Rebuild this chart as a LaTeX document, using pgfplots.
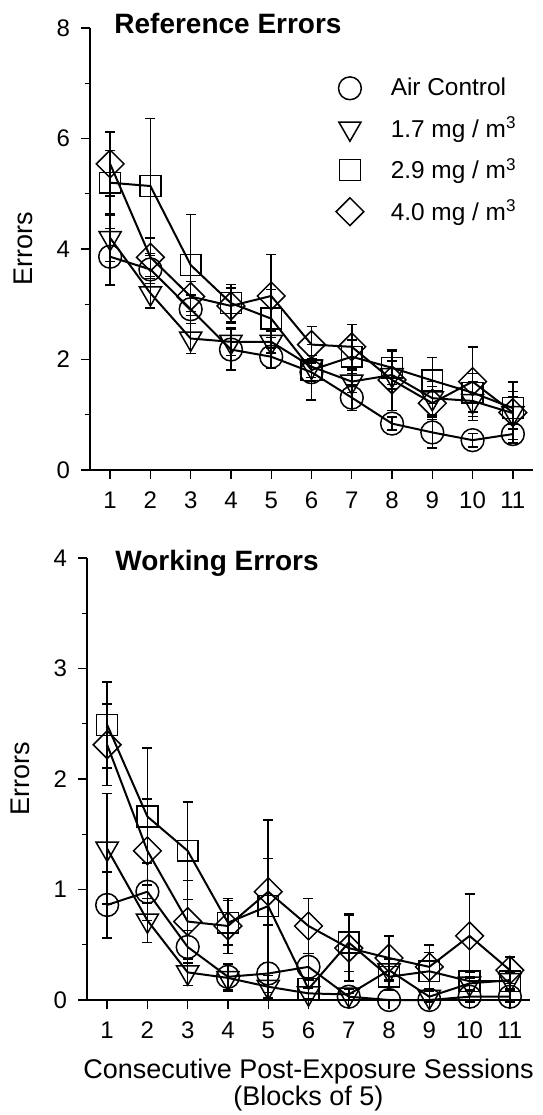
\documentclass[border=0pt]{standalone}
\usepackage{fontspec}
\setmainfont{Liberation Sans}
\usepackage{pgfplots}
\usepackage{pgfplotstable}
\pgfplotsset{compat=1.18}

% Reference errors: session, mean, error
\pgfplotstableread{
s y e
1 3.86 0.51
2 3.63 0.25
3 2.91 0.26
4 2.18 0.37
5 2.05 0.20
6 1.77 0.50
7 1.31 0.23
8 0.84 0.12
9 0.68 0.28
10 0.54 0.12
11 0.65 0.10
}\refair
\pgfplotstableread{
s y e
1 4.20 0.43
2 3.20 0.27
3 2.38 0.27
4 2.32 0.25
5 2.32 0.20
6 1.87 0.20
7 1.60 0.20
8 1.72 0.25
9 1.30 0.30
10 1.25 0.35
11 1.03 0.30
}\reflow
\pgfplotstableread{
s y e
1 5.20 0.58
2 5.14 1.22
3 3.71 0.91
4 3.02 0.34
5 2.74 0.53
6 1.81 0.20
7 2.05 0.30
8 1.85 0.30
9 1.62 0.42
10 1.40 0.35
11 1.12 0.30
}\refmid
\pgfplotstableread{
s y e
1 5.54 0.58
2 3.85 0.35
3 3.14 0.27
4 2.97 0.32
5 3.15 0.75
6 2.27 0.33
7 2.23 0.40
8 1.63 0.55
9 1.21 0.30
10 1.60 0.63
11 1.04 0.55
}\refhigh

% Working errors: session, mean, error
\pgfplotstableread{
s y e
1 0.86 0.30
2 0.98 0.26
3 0.48 0.15
4 0.21 0.12
5 0.24 0.10
6 0.30 0.12
7 0.03 0.03
8 0.00 0.00
9 0.00 0.00
10 0.03 0.05
11 0.03 0.05
}\wrkair
\pgfplotstableread{
s y e
1 1.37 0.50
2 0.72 0.20
3 0.25 0.12
4 0.20 0.12
5 0.12 0.10
6 0.06 0.05
7 0.05 0.05
8 0.27 0.10
9 0.03 0.05
10 0.15 0.06
11 0.18 0.08
}\wrklow
\pgfplotstableread{
s y e
1 2.49 0.39
2 1.66 0.62
3 1.35 0.44
4 0.70 0.20
5 0.85 0.78
6 0.10 0.10
7 0.52 0.26
8 0.21 0.12
9 0.26 0.17
10 0.17 0.08
11 0.17 0.08
}\wrkmid
\pgfplotstableread{
s y e
1 2.31 0.37
2 1.35 0.47
3 0.71 0.37
4 0.67 0.25
5 0.98 0.30
6 0.67 0.25
7 0.47 0.30
8 0.38 0.20
9 0.30 0.20
10 0.58 0.38
11 0.27 0.12
}\wrkhigh

\pgfplotsset{
  errpanel/.style={
    scale only axis, width=221.5pt, height=221pt,
    xmin=0.5, xmax=11.5, xtick={1,...,11},
    axis x line*=bottom, axis y line*=left,
    axis line style={line width=0.75pt, black},
    tick align=outside,
    major tick length=4.5pt, minor tick length=2.5pt,
    every tick/.style={line width=0.65pt, black},
    minor y tick num=1,
    ticklabel style={font=\fontsize{12}{14}\selectfont},
    xticklabel style={yshift=-3pt},
    yticklabel style={xshift=-2pt},
    /pgf/number format/assume math mode=true,
    ylabel={Errors},
    every axis y label/.style={at={(axis description cs:0,0.5)}, rotate=90,
      anchor=center, yshift=33.5pt, font=\fontsize{13.5}{15}\selectfont},
    clip=false,
  },
  grp/.style={black, line width=1pt,
    error bars/.cd, y dir=both, y explicit,
    error bar style={line width=0.75pt},
    error mark options={rotate=90, mark size=2.5pt, line width=0.75pt}},
  mk-air/.style={mark=o, mark size=5.7pt, mark options={solid, line width=0.75pt, fill=none}},
  mk-low/.style={mark=triangle, mark size=6.4pt, mark options={solid, rotate=180, line width=0.75pt, fill=none}},
  mk-mid/.style={mark=square, mark size=5.2pt, mark options={solid, line width=0.75pt, fill=none}},
  mk-high/.style={mark=square, mark size=4.9pt, mark options={solid, rotate=45, line width=0.75pt, fill=none}},
}

\begin{document}
\begin{tikzpicture}
\useasboundingbox (0,0) rectangle (271pt,-557.5pt);

\begin{axis}[errpanel, at={(45pt,-14pt)}, anchor=north west,
  ymin=0, ymax=8, ytick={0,2,...,8},
  legend style={draw=none, fill=none, at={(rel axis cs:0.541,0.906)}, anchor=north west,
    font=\fontsize{12.2}{14}\selectfont, row sep=5pt, cells={anchor=west},
    /tikz/every odd column/.append style={column sep=11.5pt}}]
  \addlegendimage{only marks, mk-air}
  \addlegendentry{Air Control}
  \addlegendimage{only marks, mk-low}
  \addlegendentry{1.7 mg / m\textsuperscript{3}}
  \addlegendimage{only marks, mk-mid}
  \addlegendentry{2.9 mg / m\textsuperscript{3}}
  \addlegendimage{only marks, mk-high}
  \addlegendentry{4.0 mg / m\textsuperscript{3}}

  \addplot+[forget plot, mk-air, grp] table[x=s, y=y, y error=e] {\refair};
  \addplot+[forget plot, mk-low, grp] table[x=s, y=y, y error=e] {\reflow};
  \addplot+[forget plot, mk-mid, grp] table[x=s, y=y, y error=e] {\refmid};
  \addplot+[forget plot, mk-high, grp] table[x=s, y=y, y error=e] {\refhigh};

  \node[anchor=base west, inner sep=0pt, font=\bfseries\fontsize{14}{16}\selectfont, xshift=12pt, yshift=-2.5pt]
    at (rel axis cs:0,1) {Reference Errors};
\end{axis}

\begin{axis}[errpanel, at={(43.5pt,-279pt)}, anchor=north west,
  ymin=0, ymax=4, ytick={0,...,4},
  xlabel={Consecutive Post-Exposure Sessions\\(Blocks of 5)},
  every axis x label/.style={at={(axis description cs:0.5,0)}, anchor=north,
    yshift=-29.5pt, inner sep=0pt, align=center, font=\fontsize{13.5}{13.5}\selectfont}]
  \addplot+[mk-air, grp] table[x=s, y=y, y error=e] {\wrkair};
  \addplot+[mk-low, grp] table[x=s, y=y, y error=e] {\wrklow};
  \addplot+[mk-mid, grp] table[x=s, y=y, y error=e] {\wrkmid};
  \addplot+[mk-high, grp] table[x=s, y=y, y error=e] {\wrkhigh};

  \node[anchor=base west, inner sep=0pt, font=\bfseries\fontsize{14}{16}\selectfont, xshift=14pt, yshift=-6pt]
    at (rel axis cs:0,1) {Working Errors};
\end{axis}
\end{tikzpicture}
\end{document}
